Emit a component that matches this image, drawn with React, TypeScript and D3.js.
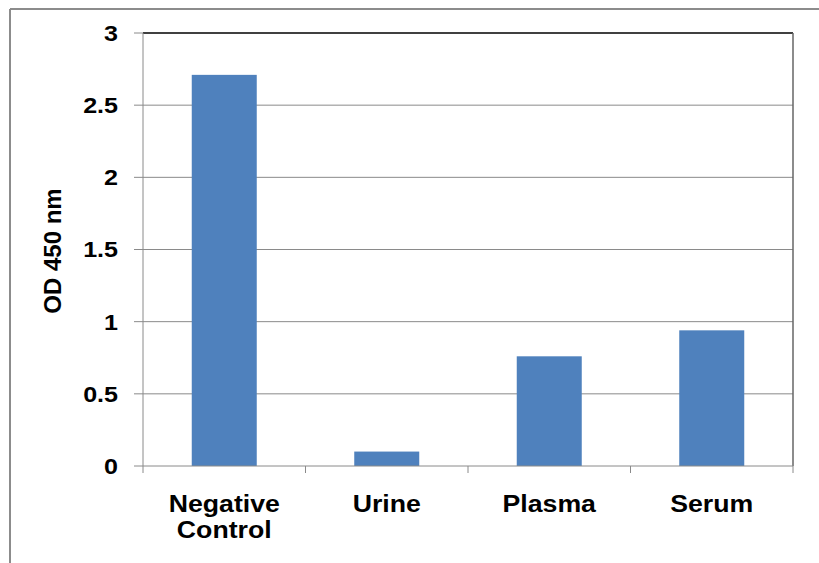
import React from "react";
import * as d3 from "d3";

const categories = ["Negative Control", "Urine", "Plasma", "Serum"];
const values = [2.71, 0.1, 0.76, 0.94];
const yTicks = [0, 0.5, 1, 1.5, 2, 2.5, 3];
const yTitle = "OD 450 nm";

const W = 819;
const H = 563;
const L = 143, R = 793, T = 33, B = 466;

export default function App() {
  const x = d3.scaleBand<string>().domain(categories).range([L, R]).paddingInner(0.6).paddingOuter(0.3);
  const xb = d3.scaleBand<string>().domain(categories).range([L, R]);
  const y = d3.scaleLinear().domain([0, 3]).range([B, T]);
  const font = "'Liberation Sans', Arial, sans-serif";
  return (
    <svg width={W} height={H} style={{ position: "absolute", left: 0, top: 0 }}>
      <rect x={0} y={0} width={W} height={H} fill="#fff" />
      <line x1={10} y1={9} x2={W} y2={9} stroke="#8c8c8c" strokeWidth={2} />
      <line x1={10} y1={9} x2={10} y2={H} stroke="#8c8c8c" strokeWidth={2} />
      {yTicks.map((t) => (
        <g key={t}>
          {t > 0 && t < 3 && <line x1={L} x2={R} y1={y(t)} y2={y(t)} stroke="#8a8a8a" strokeWidth={1} />}
          <line x1={L - 9} x2={L} y1={y(t)} y2={y(t)} stroke="#8a8a8a" strokeWidth={1} />
          <text transform={`translate(118,${y(t)}) scale(1.14,1)`} dy="0.36em" textAnchor="end" fontFamily={font} fontWeight="bold" fontSize={22} fill="#000">
            {d3.format("")(t)}
          </text>
        </g>
      ))}
      <line x1={L} x2={R} y1={T} y2={T} stroke="#000" strokeWidth={1.5} />
      <line x1={R} x2={R} y1={T} y2={B} stroke="#666" strokeWidth={1.5} />
      <line x1={L} x2={L} y1={T} y2={B + 7} stroke="#8a8a8a" strokeWidth={1} />
      {categories.map((c) => (
        <line key={"t" + c} x1={xb(c)! + xb.bandwidth()} x2={xb(c)! + xb.bandwidth()} y1={B} y2={B + 7} stroke="#8a8a8a" strokeWidth={1} />
      ))}
      {categories.map((c, i) => (
        <rect key={c} x={x(c)} y={y(values[i])} width={x.bandwidth()} height={B - y(values[i])} fill="#4f81bd" />
      ))}
      <line x1={L} x2={R} y1={B} y2={B} stroke="#8a8a8a" strokeWidth={1} />
      {categories.map((c) => {
        const words = c.split(" ");
        const cx = xb(c)! + xb.bandwidth() / 2;
        return (
          <text key={"l" + c} transform={`translate(${cx},512) scale(1.16,1)`} textAnchor="middle" fontFamily={font} fontWeight="bold" fontSize={23} fill="#000">
            {words.map((w, j) => (
              <tspan key={w} x={0} dy={j === 0 ? 0 : 26}>{w}</tspan>
            ))}
          </text>
        );
      })}
      <text transform={`translate(61,251) rotate(-90)`} textAnchor="middle" fontFamily={font} fontWeight="bold" fontSize={24} fill="#000">
        {yTitle}
      </text>
    </svg>
  );
}
